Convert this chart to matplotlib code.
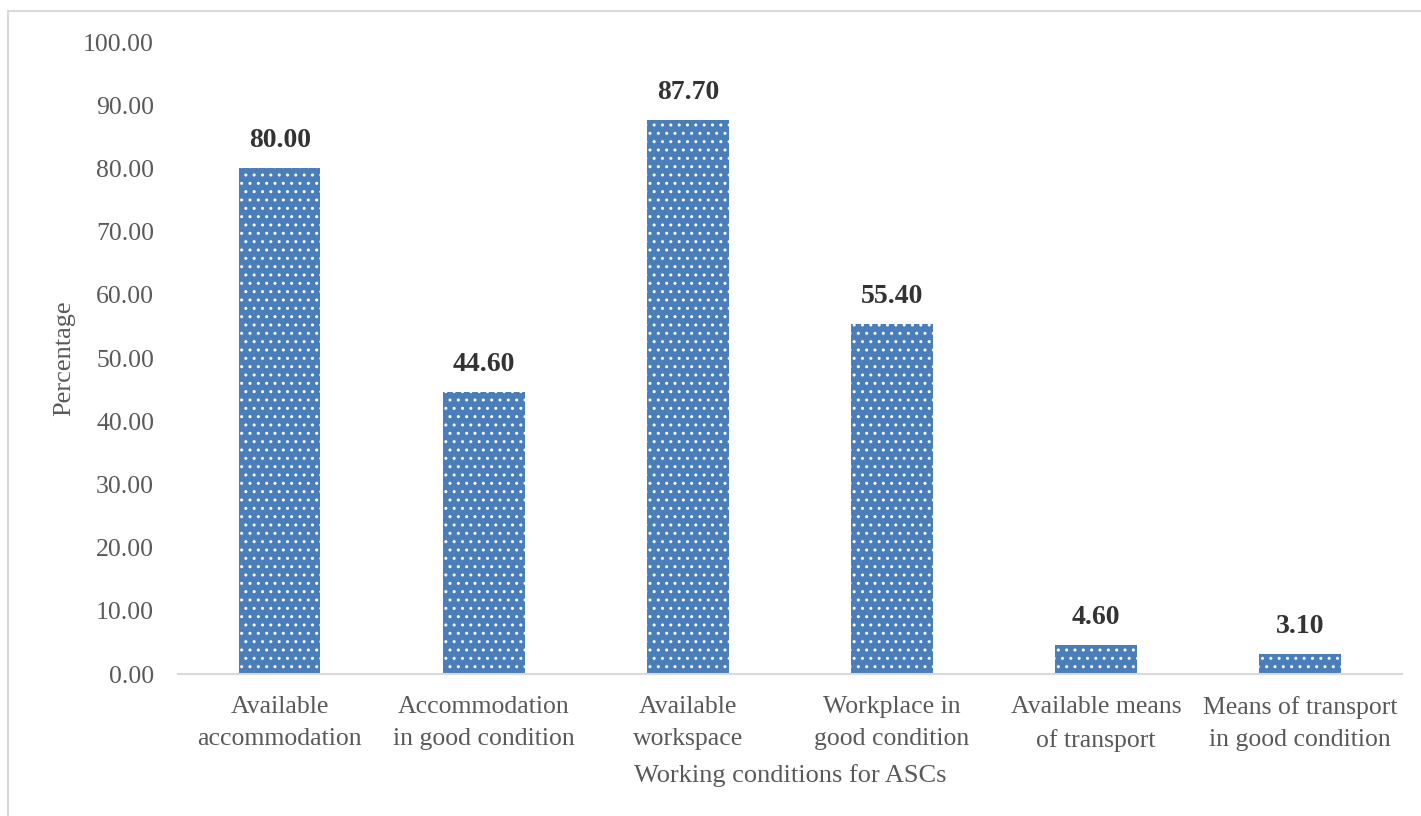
import matplotlib.pyplot as plt
import matplotlib.patches as mpatches
import numpy as np

plt.rcParams['font.family'] = ['Liberation Serif', 'DejaVu Serif']
plt.rcParams['hatch.linewidth'] = 1.0

categories = ['Available\naccommodation', 'Accommodation\nin good condition',
              'Available\nworkspace', 'Workplace in\ngood condition',
              'Available means\nof transport', 'Means of transport\nin good condition']
percentages = [80.00, 44.60, 87.70, 55.40, 4.60, 3.10]
yticks = np.arange(0, 101, 10)

fig = plt.figure(figsize=(14.21, 8.16), dpi=100)
ax = fig.add_axes([0.125, 0.174, 0.8616, 0.7745])

x = np.arange(len(categories))
bars = ax.bar(x, percentages, width=0.4, color='#4A7EBB', edgecolor='white',
              linewidth=0, hatch='..')

for xi, v in zip(x, percentages):
    ax.text(xi, v + 2.4, f'{v:.2f}', ha='center', va='bottom', fontsize=20,
            fontweight='bold', color='#333333')

ax.set_xlim(-0.5, 5.5)
ax.set_ylim(0, 100)
ax.set_yticks(yticks)
ax.set_yticklabels([f'{t:.2f}' for t in yticks], fontsize=18.5, color='#595959')
ax.set_xticks(x)
ax.set_xticklabels(categories, fontsize=18.5, color='#595959', linespacing=1.6)
ax.tick_params(axis='both', length=0)
ax.tick_params(axis='y', pad=17)
ax.tick_params(axis='x', pad=16)

for s in ['top', 'right', 'left']:
    ax.spines[s].set_visible(False)
ax.spines['bottom'].set_color('#D9D9D9')
ax.spines['bottom'].set_linewidth(1.5)

ax.set_ylabel('Percentage', fontsize=19, color='#595959', labelpad=6)
ax.set_xlabel('Working conditions for ASCs', fontsize=19, color='#595959')
ax.xaxis.set_label_coords(0.5, -0.142)

fig.patches.append(mpatches.Rectangle((8 / 1421, -0.1), 1.1, 1 - 11 / 816 + 0.1,
                                      transform=fig.transFigure, fill=False,
                                      edgecolor='#D9D9D9', linewidth=1.5))

fig.savefig('out.png', dpi=100)
